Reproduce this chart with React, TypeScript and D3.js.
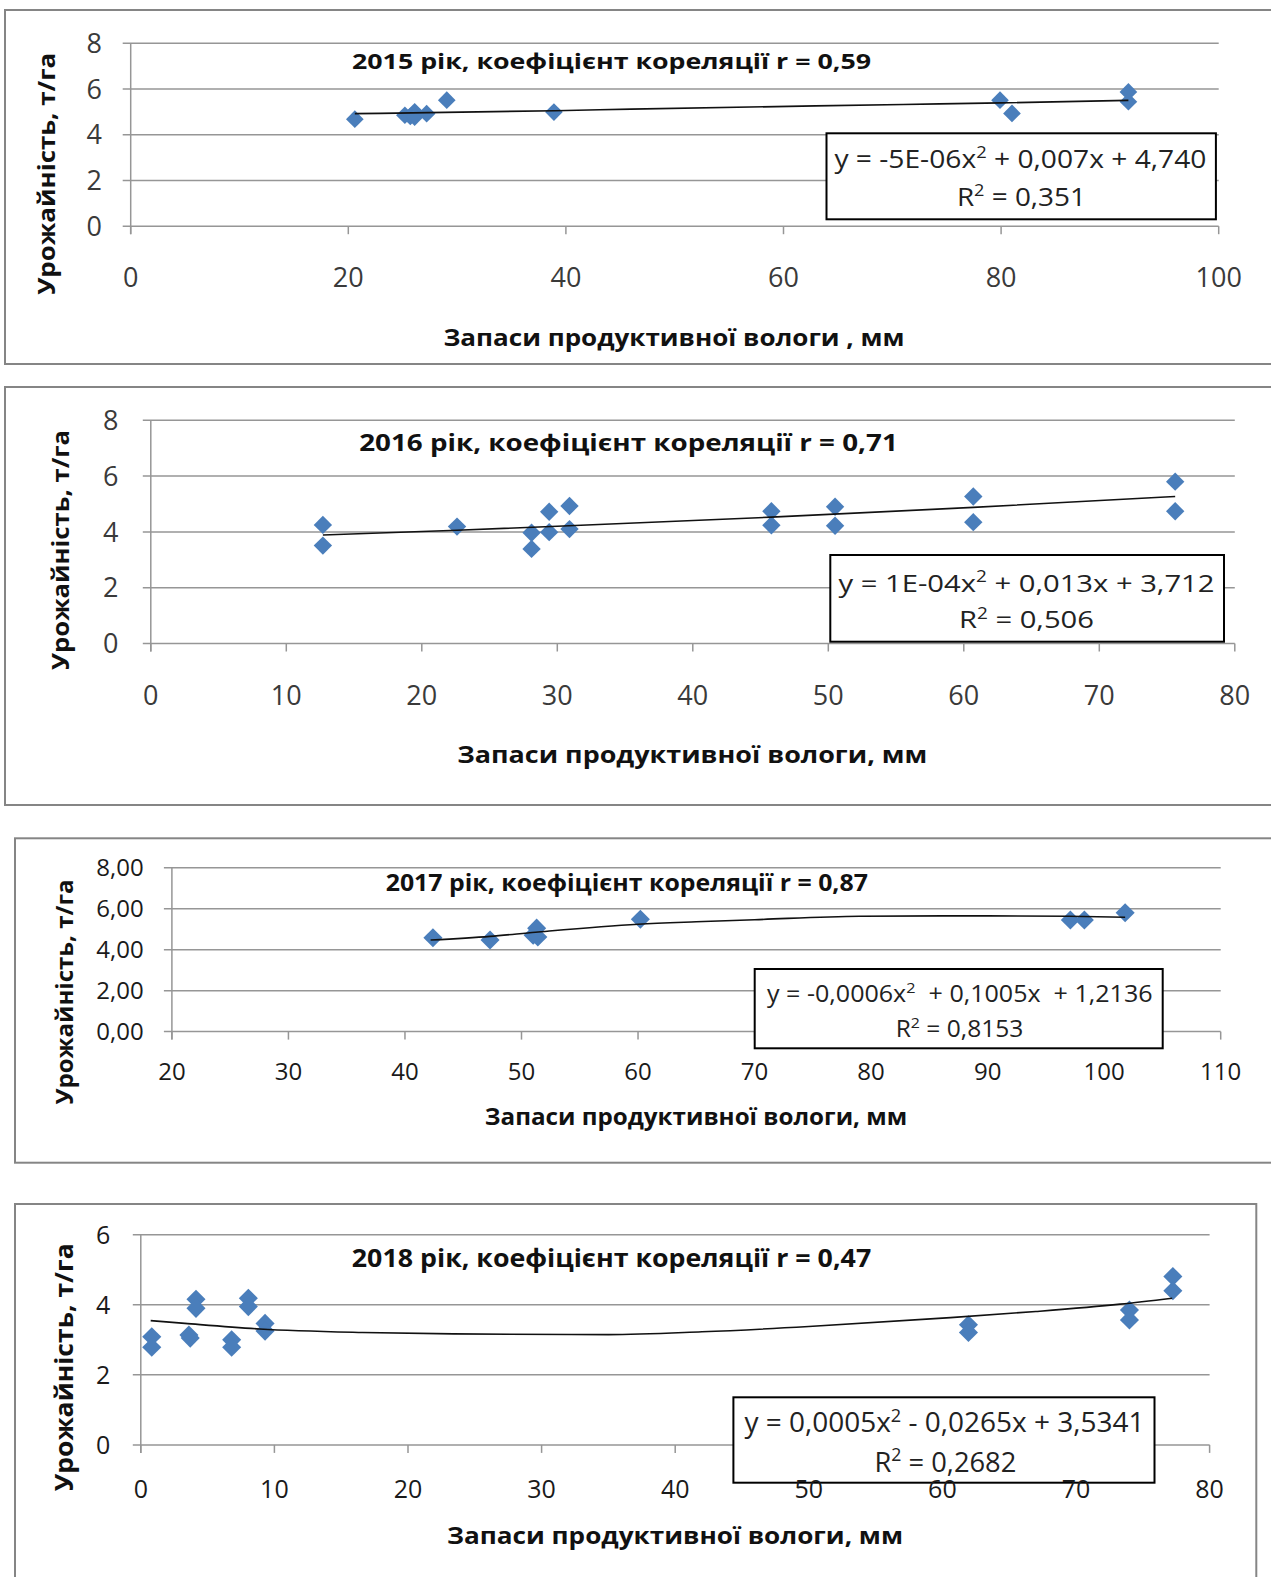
import React from 'react'
import * as d3 from 'd3'

// ---- 2015 ----
const x2015 = [20.6, 25.2, 25.7, 26.1, 26.1, 27.2, 29.05, 38.9, 79.9, 81.0, 91.7, 91.7]
const y2015 = [4.68, 4.85, 4.8, 5.0, 4.77, 4.92, 5.51, 4.99, 5.51, 4.93, 5.87, 5.44]
const trendX2015 = [20.6, 39, 46, 71, 80, 91.7]
const trendY2015 = [4.92, 5.05, 5.12, 5.32, 5.39, 5.5]
const xTicks2015 = [0, 20, 40, 60, 80, 100]
const yTicks2015 = [0, 2, 4, 6, 8]

// ---- 2016 ----
const x2016 = [12.7, 12.7, 22.6, 28.1, 28.1, 29.4, 29.4, 30.9, 30.9, 45.8, 45.8, 50.5, 50.5, 60.7, 60.7, 75.6, 75.6]
const y2016 = [4.25, 3.51, 4.19, 3.97, 3.39, 4.72, 3.99, 4.93, 4.1, 4.74, 4.24, 4.9, 4.22, 5.27, 4.35, 5.8, 4.74]
const trendX2016 = [12.7, 22.6, 30, 45.8, 60.7, 75.6]
const trendY2016 = [3.89, 4.06, 4.2, 4.53, 4.88, 5.27]
const xTicks2016 = [0, 10, 20, 30, 40, 50, 60, 70, 80]
const yTicks2016 = [0, 2, 4, 6, 8]

// ---- 2017 ----
const x2017 = [42.4, 47.3, 51.0, 51.3, 51.4, 60.2, 97.1, 98.3, 101.8]
const y2017 = [4.58, 4.47, 4.7, 5.05, 4.62, 5.48, 5.45, 5.45, 5.8]
const trendX2017 = [42.2, 47.3, 51.2, 60, 65, 70, 79, 90, 97, 101.8]
const trendY2017 = [4.47, 4.65, 4.85, 5.24, 5.36, 5.46, 5.63, 5.65, 5.63, 5.58]
const xTicks2017 = [20, 30, 40, 50, 60, 70, 80, 90, 100, 110]
const yTicks2017 = [0, 2, 4, 6, 8]

// ---- 2018 ----
const x2018 = [0.82, 0.82, 3.6, 3.7, 4.13, 4.13, 6.8, 6.8, 8.05, 8.05, 9.3, 9.3, 61.95, 61.95, 74.0, 74.0, 77.25, 77.25]
const y2018 = [3.09, 2.79, 3.14, 3.05, 4.16, 3.9, 3.0, 2.79, 4.19, 3.95, 3.47, 3.25, 3.43, 3.21, 3.85, 3.57, 4.81, 4.4]
const trendX2018 = [0.74, 3.3, 8.9, 16.6, 23.4, 35, 42, 50, 60, 67, 73.3, 77.2]
const trendY2018 = [3.55, 3.47, 3.31, 3.21, 3.17, 3.15, 3.23, 3.38, 3.62, 3.81, 4.02, 4.19]
const xTicks2018 = [0, 10, 20, 30, 40, 50, 60, 70, 80]
const yTicks2018 = [0, 2, 4, 6]

const yTitle = 'Урожайність, т/га'
const titles = [
  '2015 рік, коефіцієнт кореляції r = 0,59',
  '2016 рік, коефіцієнт кореляції r = 0,71',
  '2017 рік, коефіцієнт кореляції r = 0,87',
  '2018 рік, коефіцієнт кореляції r = 0,47',
]
const xTitles = [
  'Запаси продуктивної вологи , мм',
  'Запаси продуктивної вологи, мм',
  'Запаси продуктивної вологи, мм',
  'Запаси продуктивної вологи, мм',
]
// equation parts: before superscript, after superscript
const equations = [
  ['y = -5E-06x', ' + 0,007x + 4,740'],
  ['y = 1E-04x', ' + 0,013x + 3,712'],
  ['y = -0,0006x', '  + 0,1005x  + 1,2136'],
  ['y = 0,0005x', ' - 0,0265x + 3,5341'],
]
const r2Values = ['0,351', '0,506', '0,8153', '0,2682']

const FONT = '"Open Sans", "Noto Sans", sans-serif'
const BLUE = '#4a7ebb'
const GRID = '#969696'

// layout of each panel (pixel geometry only)
const layouts = [
  {
    frame: [5, 10, 1320, 354], plot: [130.7, 1218.7, 43.2, 226.2],
    tickSize: 27, tickColor: '#3a3a3a', yLabelEnd: 102, xLabelY: 286.7,
    yTitle: [54.5, 173.8, 242, 24], xTitle: [674, 346, 461, 24], title: [611.5, 69, 519, 22],
    box: [826.5, 133.3, 389.4, 86], eq1: [1020.4, 168.3, 372, 25], eq2: [1021.4, 205.7, 129, 25],
    marker: 12.5, yDec: 0,
  },
  {
    frame: [5, 387, 1320, 418], plot: [150.8, 1234.8, 420.3, 643.5],
    tickSize: 27, tickColor: '#3a3a3a', yLabelEnd: 118.4, xLabelY: 705,
    yTitle: [69, 550, 240, 24], xTitle: [692.3, 763, 470, 24], title: [628.5, 451, 538.6, 23],
    box: [830.3, 555, 393.7, 86.7], eq1: [1026.5, 591.7, 376, 24], eq2: [1026.5, 628.3, 135, 24],
    marker: 13, yDec: 0,
  },
  {
    frame: [15, 838.3, 1320, 324.4], plot: [171.9, 1220.7, 867.7, 1031.6],
    tickSize: 24, tickColor: '#1a1a1a', yLabelEnd: 143.7, xLabelY: 1080,
    yTitle: [72.8, 992, 225, 24], xTitle: [696, 1125, 422.3, 24], title: [626.8, 891, 482.2, 23],
    box: [754.7, 969, 408, 79.3], eq1: [959.8, 1001.7, 385.5, 23], eq2: [959.5, 1037.3, 127.6, 23],
    marker: 13.5, yDec: 2,
  },
  {
    frame: [15, 1204, 1241.3, 500], plot: [140.8, 1209.6, 1234.8, 1444.9],
    tickSize: 25, tickColor: '#1a1a1a', yLabelEnd: 110.2, xLabelY: 1498,
    yTitle: [72.8, 1367.3, 248, 25], xTitle: [675, 1544, 456, 24], title: [611.5, 1267, 519.4, 25],
    box: [733.4, 1397.3, 421.1, 85.4], eq1: [944.4, 1432.3, 400, 27], eq2: [945.4, 1471.7, 141.8, 27],
    marker: 13.5, yDec: 0,
  },
]

const series = [
  { xs: x2015, ys: y2015, tx: trendX2015, ty: trendY2015, xTicks: xTicks2015, yTicks: yTicks2015 },
  { xs: x2016, ys: y2016, tx: trendX2016, ty: trendY2016, xTicks: xTicks2016, yTicks: yTicks2016 },
  { xs: x2017, ys: y2017, tx: trendX2017, ty: trendY2017, xTicks: xTicks2017, yTicks: yTicks2017 },
  { xs: x2018, ys: y2018, tx: trendX2018, ty: trendY2018, xTicks: xTicks2018, yTicks: yTicks2018 },
]

function Panel({ idx }: { idx: number }) {
  const s = series[idx]
  const L: any = layouts[idx]
  const [l, r, t, b] = L.plot
  const x = d3.scaleLinear().domain(d3.extent(s.xTicks) as [number, number]).range([l, r])
  const y = d3.scaleLinear().domain(d3.extent(s.yTicks) as [number, number]).range([b, t])
  const trend = d3.line<number>()
    .x((_, i) => x(s.tx[i]))
    .y(d => y(d))
    .curve(d3.curveMonotoneX)(s.ty)
  const diamond = d3.symbol(d3.symbolSquare, L.marker * L.marker)()
  const fmtY = (v: number) => v.toFixed(L.yDec).replace('.', ',')
  const [fx, fy, fw, fh] = L.frame
  const [bx, by, bw, bh] = L.box
  const eq = equations[idx]

  return (
    <g>
      <rect x={fx} y={fy} width={fw} height={fh} fill="#fff" stroke="#858585" strokeWidth={2} />
      {s.yTicks.map(v => (
        <line key={'g' + v} x1={l - 8} x2={r} y1={y(v)} y2={y(v)} stroke={GRID} strokeWidth={1.5} />
      ))}
      <line x1={l} x2={l} y1={t} y2={b + 8} stroke={GRID} strokeWidth={1.5} />
      {s.xTicks.map(v => (
        <line key={'t' + v} x1={x(v)} x2={x(v)} y1={b} y2={b + 8} stroke={GRID} strokeWidth={1.5} />
      ))}
      {s.xs.map((v, i) => (
        <path key={'p' + i} d={diamond || ''} fill={BLUE}
          transform={`translate(${x(v)},${y(s.ys[i])}) rotate(45)`} />
      ))}
      <path d={trend || ''} fill="none" stroke="#111" strokeWidth={1.6} />
      <rect x={bx} y={by} width={bw} height={bh} fill="#fff" stroke="#000" strokeWidth={2} />
      <text x={L.eq1[0]} y={L.eq1[1]} fontSize={L.eq1[3]} textAnchor="middle" fill="#222"
        textLength={L.eq1[2]} lengthAdjust="spacingAndGlyphs" xmlSpace="preserve">
        {eq[0]}<tspan dy={-L.eq1[3] * 0.4} fontSize={L.eq1[3] * 0.65}>2</tspan>
        <tspan dy={L.eq1[3] * 0.4}>{eq[1]}</tspan>
      </text>
      <text x={L.eq2[0]} y={L.eq2[1]} fontSize={L.eq2[3]} textAnchor="middle" fill="#222"
        textLength={L.eq2[2]} lengthAdjust="spacingAndGlyphs">
        R<tspan dy={-L.eq2[3] * 0.4} fontSize={L.eq2[3] * 0.65}>2</tspan>
        <tspan dy={L.eq2[3] * 0.4}>{' = ' + r2Values[idx]}</tspan>
      </text>
      {s.yTicks.map(v => (
        <text key={'yl' + v} x={L.yLabelEnd} y={y(v) + L.tickSize * 0.357} fontSize={L.tickSize}
          textAnchor="end" fill={L.tickColor}>{fmtY(v)}</text>
      ))}
      {s.xTicks.map(v => (
        <text key={'xl' + v} x={x(v)} y={L.xLabelY} fontSize={L.tickSize}
          textAnchor="middle" fill={L.tickColor}>{v}</text>
      ))}
      <text x={L.title[0]} y={L.title[1]} fontSize={L.title[3]} fontWeight="bold" textAnchor="middle"
        fill="#111" textLength={L.title[2]} lengthAdjust="spacingAndGlyphs">{titles[idx]}</text>
      <text x={L.xTitle[0]} y={L.xTitle[1]} fontSize={L.xTitle[3]} fontWeight="bold" textAnchor="middle"
        fill="#111" textLength={L.xTitle[2]} lengthAdjust="spacingAndGlyphs">{xTitles[idx]}</text>
      <text transform={`translate(${L.yTitle[0]},${L.yTitle[1]}) rotate(-90)`} fontSize={L.yTitle[3]}
        fontWeight="bold" textAnchor="middle" fill="#111" textLength={L.yTitle[2]}
        lengthAdjust="spacingAndGlyphs">{yTitle}</text>
    </g>
  )
}

export default function App() {
  return (
    <svg width={1271} height={1577} style={{ position: 'absolute', left: 0, top: 0, background: '#fff' }}
      fontFamily={FONT}>
      <rect width={1271} height={1577} fill="#fff" />
      {series.map((_, i) => <Panel key={i} idx={i} />)}
    </svg>
  )
}
